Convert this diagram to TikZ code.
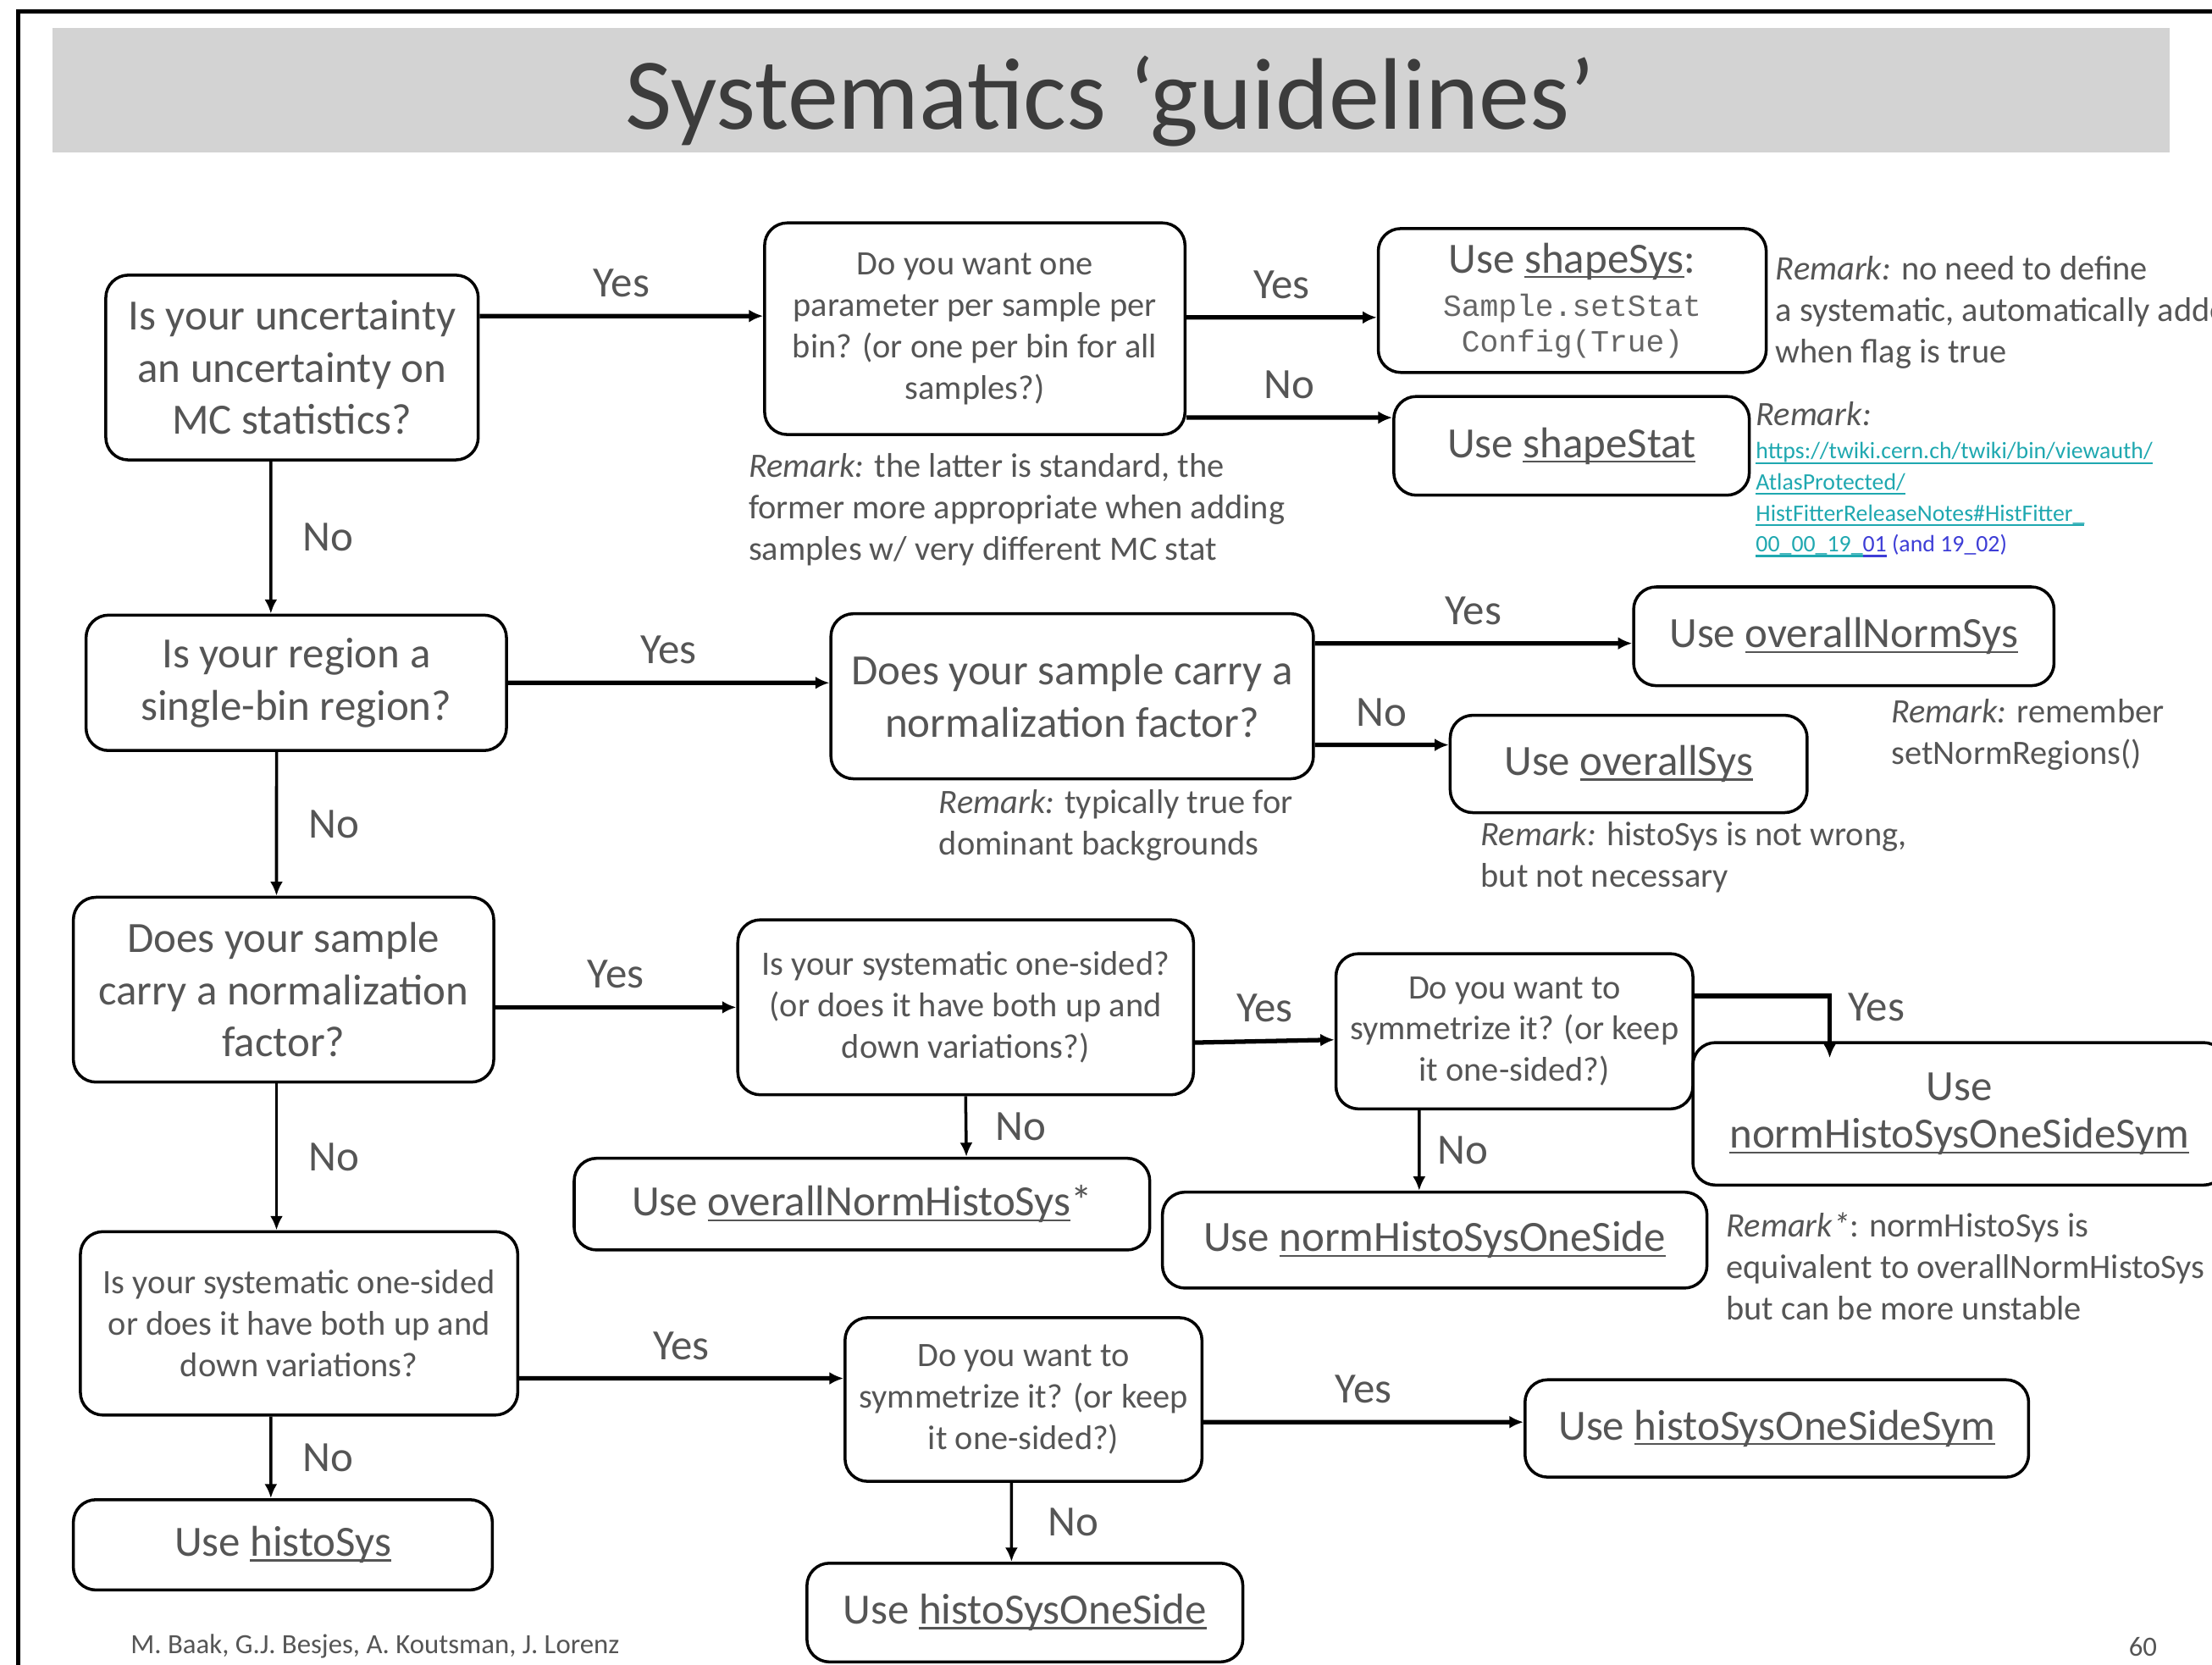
\documentclass[tikz,border=0pt]{standalone}
\usepackage{fontspec}
\setmainfont{Carlito}
\setmonofont{Liberation Mono}
\usetikzlibrary{arrows.meta}

\definecolor{ink}{HTML}{555555}
\definecolor{codeink}{HTML}{666666}
\definecolor{titleink}{HTML}{3C3C3C}
\definecolor{band}{HTML}{D3D3D3}
\definecolor{linkteal}{HTML}{1FA8B0}
\definecolor{linkblue}{HTML}{3D3DD6}

\newcommand{\titletext}{\fontsize{20.5}{24}\selectfont}
\newcommand{\bigtext}{\fontsize{8.7}{10.5}\selectfont}
\newcommand{\smalltext}{\fontsize{6.9}{8.35}\selectfont}
\newcommand{\linktext}{\fontsize{4.75}{6.25}\selectfont}
\newcommand{\codetext}{\ttfamily\fontsize{6.2}{7.1}\selectfont\color{codeink}}
\newcommand{\foottext}{\fontsize{5.6}{6.7}\selectfont}
\newcommand{\ulname}[1]{\setbox0\hbox{#1}\rlap{\rule[-1pt]{\wd0}{0.35pt}}\box0\relax}

\begin{document}
\begin{tikzpicture}[x = 1cm, y = -1cm,
    box/.style = {draw, line width = 0.6pt, rounded corners = 1.6mm, align = center, inner sep = 0pt, text = ink},
    ques/.style = {box, font = \bigtext},
    subques/.style = {box, font = \smalltext},
    usebox/.style = {box, font = \bigtext},
    across/.style = {-{Latex[length = 1mm, width = 0.9mm]}, line width = 0.9pt},
    down/.style = {-{Latex[length = 1mm, width = 0.9mm]}, line width = 0.6pt},
    lbl/.style = {font = \bigtext, text = ink},
    remark/.style = {anchor = north west, align = left, inner sep = 0pt, font = \smalltext, text = ink}]
    \clip (0, 0) rectangle (15.68, 11.80);

    % slide frame and title
    \draw [line width = 0.3mm] (0.13, 11.80) -- (0.13, 0.08) -- (15.68, 0.08);
    \fill [band] (0.37, 0.20) rectangle (15.38, 1.08);
    \node [font = \titletext, text = titleink] (title) at (7.87, 0.72) {Systematics ‘guidelines’};

    % MC statistics
    \node [ques, minimum width = 2.64cm, minimum height = 1.31cm] (mcstat) at (2.07, 2.605) {Is your uncertainty\\an uncertainty on\\MC statistics?};
    \node [subques, minimum width = 2.98cm, minimum height = 1.50cm] (perbin) at (6.91, 2.33) {Do you want one\\parameter per sample per\\bin? (or one per bin for all\\samples?)};
    \node [usebox, minimum width = 2.75cm, minimum height = 1.02cm] (shapesys) at (11.145, 2.13) {\raisebox{0pt}[\height][0pt]{}Use \ulname{shapeSys}:\\[-1.7pt]{\codetext Sample.setStat}\\[-3.4pt]{\codetext Config(True)}};
    \node [usebox, minimum width = 2.52cm, minimum height = 0.70cm] (shapestat) at (11.14, 3.16) {Use \ulname{shapeStat}};

    % single-bin region
    \node [ques, minimum width = 2.98cm, minimum height = 0.96cm] (singlebin) at (2.10, 4.84) {Is your region a\\single-bin region?};
    \node [ques, minimum width = 3.42cm, minimum height = 1.17cm] (normfac) at (7.60, 4.935) {Does your sample carry a\\normalization factor?};
    \node [usebox, minimum width = 2.98cm, minimum height = 0.70cm] (overallnorm) at (13.07, 4.51) {Use \ulname{overallNormSys}};
    \node [usebox, minimum width = 2.53cm, minimum height = 0.69cm] (overallsys) at (11.545, 5.415) {Use \ulname{overallSys}};

    % shape with normalization factor
    \node [ques, minimum width = 2.98cm, minimum height = 1.31cm] (samplenorm) at (2.01, 7.015) {Does your sample\\carry a normalization\\factor?};
    \node [subques, minimum width = 3.23cm, minimum height = 1.24cm] (normonesided) at (6.845, 7.14) {Is your systematic one-sided?\\(or does it have both up and\\down variations?)};
    \node [subques, minimum width = 2.53cm, minimum height = 1.10cm] (normsymq) at (10.735, 7.31) {Do you want to\\symmetrize it? (or keep\\it one-sided?)};
    \node [usebox, minimum width = 3.78cm, minimum height = 1.01cm] (normsym) at (13.89, 7.895) {Use\\[-0.8pt]\ulname{normHistoSysOneSideSym}};
    \node [usebox, minimum width = 4.08cm, minimum height = 0.65cm] (overallnormhisto) at (6.11, 8.535) {Use \ulname{overallNormHistoSys}*};
    \node [usebox, minimum width = 3.86cm, minimum height = 0.68cm] (normoneside) at (10.17, 8.79) {Use \ulname{normHistoSysOneSide}};

    % shape without normalization factor
    \node [subques, minimum width = 3.10cm, minimum height = 1.30cm] (onesided) at (2.12, 9.38) {Is your systematic one-sided\\or does it have both up and\\down variations?};
    \node [subques, minimum width = 2.53cm, minimum height = 1.16cm] (symq) at (7.255, 9.92) {Do you want to\\symmetrize it? (or keep\\it one-sided?)};
    \node [usebox, minimum width = 3.57cm, minimum height = 0.69cm] (histosym) at (12.595, 10.125) {Use \ulname{histoSysOneSideSym}};
    \node [usebox, minimum width = 2.97cm, minimum height = 0.64cm] (histosys) at (2.005, 10.95) {Use \ulname{histoSys}};
    \node [usebox, minimum width = 3.09cm, minimum height = 0.70cm] (histooneside) at (7.265, 11.43) {Use \ulname{histoSysOneSide}};

    % yes / no connections
    \draw [across] ([yshift = 3.65mm]mcstat.east) -- ([yshift = 0.9mm]perbin.west) node [lbl, midway, above] {Yes};
    \draw [across] ([yshift = 0.8mm]perbin.east) -- ([yshift = -1.2mm]shapesys.west) node [lbl, midway, above] {Yes};
    \draw [across] ([yshift = -6.3mm]perbin.east) -- ([yshift = 2mm]shapestat.west) node [lbl, midway, above] {No};
    \draw [down] ([xshift = -1.5mm]mcstat.south) -- ([xshift = -1.8mm]singlebin.north) node [lbl, midway, right, xshift = 1mm] {No};

    \draw [across] (singlebin.east) -- ([yshift = 0.95mm]normfac.west) node [lbl, midway, above] {Yes};
    \draw [across] ([yshift = 3.75mm]normfac.east) -- ([yshift = -0.5mm]overallnorm.west) node [lbl, midway, above] {Yes};
    \draw [across] ([yshift = -3.45mm]normfac.east) -- ([yshift = 1.35mm]overallsys.west) node [lbl, midway, above] {No};
    \draw [down] ([xshift = -1.4mm]singlebin.south) -- ([xshift = -0.5mm]samplenorm.north) node [lbl, midway, right, xshift = 1mm] {No};

    \draw [across] ([yshift = -1.25mm]samplenorm.east) -- (normonesided.west) node [lbl, midway, above] {Yes};
    \draw [across] ([yshift = -2.5mm]normonesided.east) -- ([yshift = -0.6mm]normsymq.west) node [lbl, midway, above] {Yes};
    \draw [across] ([yshift = 2.5mm]normsymq.east) -| ([xshift = -9.2mm, yshift = -1.2mm]normsym.north) node [lbl, pos = 0.5, right, yshift = -0.8mm] {Yes};
    \draw [down] (normonesided.south) -- ([xshift = 7.4mm]overallnormhisto.north) node [lbl, midway, right, xshift = 0.8mm] {No};
    \draw [down] ([xshift = -6.75mm]normsymq.south) -- ([xshift = -1.1mm]normoneside.north) node [lbl, midway, right] {No};
    \draw [down] ([xshift = -0.5mm]samplenorm.south) -- ([xshift = -1.6mm]onesided.north) node [lbl, midway, right, xshift = 1mm] {No};

    \draw [across] ([yshift = -3.9mm]onesided.east) -- ([yshift = 1.5mm]symq.west) node [lbl, midway, above] {Yes};
    \draw [across] ([yshift = -1.6mm]symq.east) -- ([yshift = 0.45mm]histosym.west) node [lbl, midway, above] {Yes};
    \draw [down] ([xshift = -2mm]onesided.south) -- ([xshift = -0.85mm]histosys.north) node [lbl, midway, right, xshift = 1mm] {No};
    \draw [down] ([xshift = -0.85mm]symq.south) -- ([xshift = -0.95mm]histooneside.north) node [lbl, midway, right, xshift = 1.3mm] {No};

    % remarks
    \node [remark] (rmkperbin) at (5.30, 3.21) {\textit{Remark:} the latter is standard, the\\former more appropriate when adding\\samples w/ very different MC stat};
    \node [remark] (rmkshapesys) at (12.58, 1.81) {\textit{Remark:} no need to define\\a systematic, automatically added\\when flag is true};
    \node [remark] (rmkshapestat) at (12.44, 2.84) {\textit{Remark:}};
    \node [remark, font = \linktext, text = linkteal] (twikilink) at (12.44, 3.13) {\ulname{https://twiki.cern.ch/twiki/bin/viewauth/}\\\ulname{AtlasProtected/}\\\ulname{HistFitterReleaseNotes\#HistFitter\_}\\\ulname{00\_00\_19\_}{\color{linkblue}\ulname{01} (and 19\_02)}};
    \node [remark] (rmkoverallnorm) at (13.40, 4.95) {\textit{Remark:} remember\\setNormRegions()};
    \node [remark] (rmknormfac) at (6.65, 5.59) {\textit{Remark:} typically true for\\dominant backgrounds};
    \node [remark] (rmkoverallsys) at (10.49, 5.82) {\textit{Remark:} histoSys is not wrong,\\but not necessary};
    \node [remark] (rmknormsym) at (12.23, 8.59) {\textit{Remark*}: normHistoSys is\\equivalent to overallNormHistoSys\\but can be more unstable};

    % footer
    \node [anchor = west, inner sep = 0pt, font = \foottext, text = ink] (authors) at (0.92, 11.67) {M. Baak, G.J. Besjes, A. Koutsman, J. Lorenz};
    \node [inner sep = 0pt, font = \foottext, text = ink] (pagenum) at (15.19, 11.67) {60};
\end{tikzpicture}
\end{document}
